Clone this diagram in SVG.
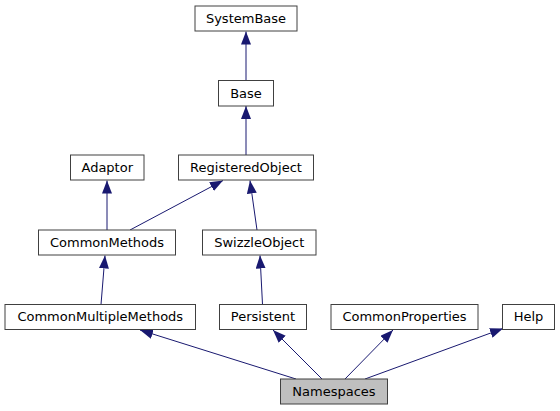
<svg xmlns="http://www.w3.org/2000/svg" width="560" height="411" viewBox="0 0 560 411">
<style>
.node rect{fill:#ffffff;stroke:#404040;stroke-width:1}
.node.cur rect{fill:#bfbfbf}
.node text{font-family:"DejaVu Sans",sans-serif;font-size:13px;fill:#000;text-anchor:middle}
.edges line{stroke:#191970;stroke-width:1;marker-end:url(#arr)}
</style>
<defs>
<marker id="arr" markerUnits="userSpaceOnUse" viewBox="0 0 13 10" markerWidth="13" markerHeight="10" refX="13" refY="5" orient="auto">
<path d="M0,0 L13,5 L0,10 z" fill="#191970"/>
</marker>
</defs>
<rect width="560" height="411" fill="#ffffff"/>
<g class="edges">
<line x1="246" y1="80.5" x2="246" y2="31.5"/>
<line x1="246" y1="155" x2="246" y2="106"/>
<line x1="107" y1="230" x2="107" y2="180.5"/>
<line x1="130" y1="230" x2="223" y2="180.5"/>
<line x1="257" y1="230" x2="250" y2="180.5"/>
<line x1="101" y1="304.5" x2="105" y2="255.5"/>
<line x1="262.5" y1="304.5" x2="260" y2="255.5"/>
<line x1="296" y1="379" x2="140" y2="330"/>
<line x1="322" y1="379" x2="273" y2="330"/>
<line x1="345" y1="379" x2="393" y2="330"/>
<line x1="365" y1="379" x2="503" y2="328.5"/>
</g>
<g id="SystemBase" class="node"><rect x="195" y="6" width="102" height="25"/><text x="246" y="22.5">SystemBase</text></g>
<g id="Base" class="node"><rect x="218.5" y="80.5" width="55" height="25.5"/><text x="246" y="97.5">Base</text></g>
<g id="Adaptor" class="node"><rect x="70.5" y="155" width="73.5" height="25"/><text x="107.25" y="171.5">Adaptor</text></g>
<g id="RegisteredObject" class="node"><rect x="178.5" y="155" width="135" height="25"/><text x="246" y="171.5">RegisteredObject</text></g>
<g id="CommonMethods" class="node"><rect x="38.5" y="230" width="137" height="25"/><text x="107" y="246.5">CommonMethods</text></g>
<g id="SwizzleObject" class="node"><rect x="202.5" y="230" width="113.5" height="25"/><text x="259.25" y="246.5">SwizzleObject</text></g>
<g id="CommonMultipleMethods" class="node"><rect x="5" y="304.5" width="190.5" height="25"/><text x="100.25" y="321">CommonMultipleMethods</text></g>
<g id="Persistent" class="node"><rect x="219.5" y="304.5" width="87" height="25"/><text x="263" y="321">Persistent</text></g>
<g id="CommonProperties" class="node"><rect x="331" y="304.5" width="147" height="25"/><text x="404.5" y="321">CommonProperties</text></g>
<g id="Help" class="node"><rect x="502.5" y="304.5" width="52" height="25"/><text x="528.5" y="321">Help</text></g>
<g id="Namespaces" class="node cur"><rect x="280.5" y="379" width="107" height="25"/><text x="334" y="395.5">Namespaces</text></g>
</svg>
